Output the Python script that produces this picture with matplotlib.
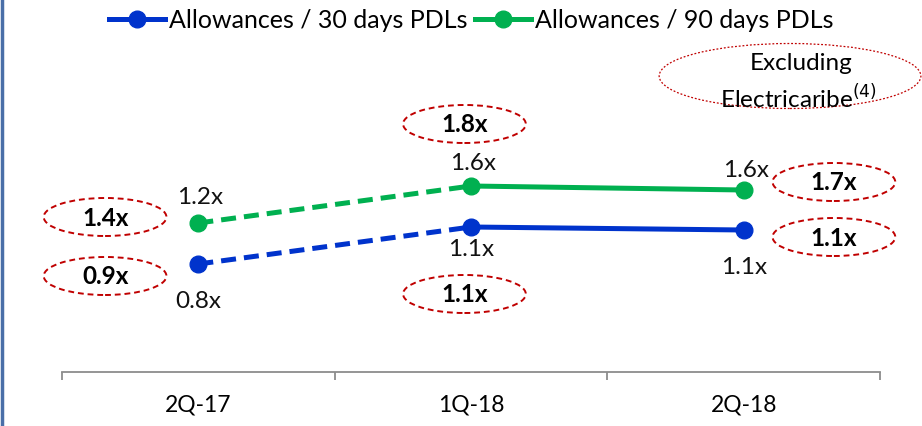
import numpy as np
import matplotlib
matplotlib.use("Agg")
import matplotlib.pyplot as plt
from matplotlib.patches import Ellipse
from matplotlib.lines import Line2D

# data
categories = ["2Q-17", "1Q-18", "2Q-18"]
allow_30 = [0.80, 1.17, 1.14]
allow_90 = [1.21, 1.58, 1.54]
labels_30 = ["0.8x", "1.1x", "1.1x"]
labels_90 = ["1.2x", "1.6x", "1.6x"]
# "Excluding Electricaribe" values (circled)
excl_30 = ["0.9x", "1.1x", "1.1x"]
excl_90 = ["1.4x", "1.8x", "1.7x"]

BLUE = "#0033cc"
GREEN = "#00b050"
RED = "#c00000"

plt.rcParams['font.family'] = ['Lato', 'DejaVu Sans']

fig = plt.figure(figsize=(9.22, 4.26), dpi=100)
ax = fig.add_axes([62/922, 54/426, 818/922, 372/426])
ax.set_xlim(-0.5, 2.5)
ax.set_ylim(-0.28, 3.44)

x = np.arange(len(categories))

# dashed first segment, solid after
dash = (0, (3, 1.6))
ax.plot(x[:2], allow_30[:2], color=BLUE, lw=3.6, ls=dash, solid_capstyle='butt')
ax.plot(x[1:], allow_30[1:], color=BLUE, lw=3.6)
ax.plot(x, allow_30, ls='none', marker='o', ms=12, color=BLUE)
ax.plot(x[:2], allow_90[:2], color=GREEN, lw=3.6, ls=dash, solid_capstyle='butt')
ax.plot(x[1:], allow_90[1:], color=GREEN, lw=3.6)
ax.plot(x, allow_90, ls='none', marker='o', ms=12, color=GREEN)

# value labels
off_90 = [26, 23, 19]
off_30 = [-38, -23, -38]
for i in range(len(categories)):
    ax.annotate(labels_90[i], (x[i], allow_90[i]), xytext=(2, off_90[i]), textcoords='offset pixels',
                ha='center', va='center', fontsize=17.5, color='#111111')
    ax.annotate(labels_30[i], (x[i], allow_30[i]), xytext=(0, off_30[i]), textcoords='offset pixels',
                ha='center', va='center', fontsize=17.5, color='#111111')

# circled excluding-Electricaribe values
ell_x = [-0.342, 0.976, 2.331]
ell_y90 = [1.27, 2.20, 1.62]
ell_y30 = [0.68, 0.50, 1.07]
for i in range(len(categories)):
    for yy, txt in ((ell_y90[i], excl_90[i]), (ell_y30[i], excl_30[i])):
        ax.add_patch(Ellipse((ell_x[i], yy), 0.45, 0.38, fill=False, ec=RED, lw=1.4,
                             ls=(0, (3, 2)), clip_on=False))
        ax.text(ell_x[i], yy - 0.01, txt, ha='center', va='center', fontsize=17.5,
                fontweight='bold', color='black')

ax.add_patch(Ellipse((2.17, 2.68), 0.96, 0.65, fill=False, ec=RED, lw=0.9,
                     ls=(0, (1.5, 1.5)), clip_on=False))
ax.text(2.21, 2.80, "Excluding", ha='center', va='center', fontsize=17.5)
ax.text(2.20, 2.46, "Electricaribe$^{(4)}$", ha='center', va='center', fontsize=17.5)

# axis styling
for s in ("left", "right", "top"):
    ax.spines[s].set_visible(False)
ax.spines["bottom"].set_color("#8c8c8c")
ax.spines["bottom"].set_linewidth(1.3)
ax.set_yticks([])
ax.set_xticks([-0.5, 0.5, 1.5, 2.5])
ax.set_xticklabels([])
ax.tick_params(axis='x', which='major', length=6, width=1.3, color="#8c8c8c", direction='out')
ax.set_xticks(x, minor=True)
ax.set_xticklabels(categories, minor=True, fontsize=16.5)
ax.tick_params(axis='x', which='minor', length=0, pad=16)

# legend
handles = [Line2D([], [], color=BLUE, lw=3.6, marker='o', ms=12),
           Line2D([], [], color=GREEN, lw=3.6, marker='o', ms=12)]
fig.legend(handles, ["Allowances / 30 days PDLs", "Allowances / 90 days PDLs"],
           loc='center', bbox_to_anchor=(471/922, 1 - 20/426), ncol=2, frameon=False,
           fontsize=18, handlelength=2.24, handletextpad=0.16, columnspacing=0.3, borderpad=0)

# left frame line
fig.add_artist(Line2D([0.002, 0.002], [0, 1], transform=fig.transFigure, color="#4a6fa8", lw=2.5))

fig.savefig("out.png", dpi=100)
